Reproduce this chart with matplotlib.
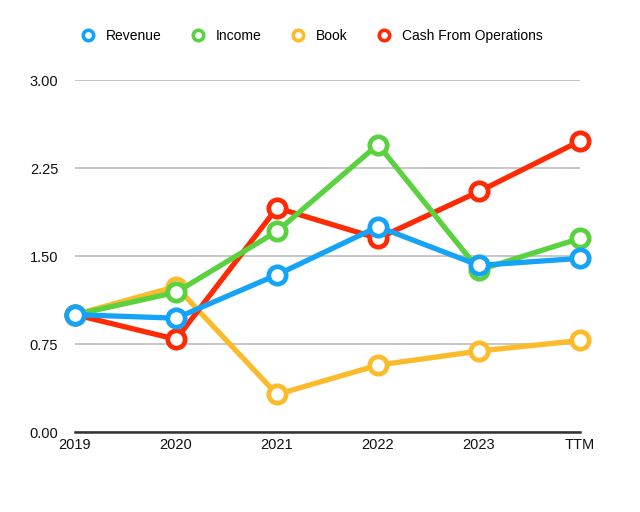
import matplotlib
matplotlib.use('Agg')
import matplotlib.pyplot as plt
from matplotlib.lines import Line2D

plt.rcParams['font.family'] = ['Liberation Sans', 'DejaVu Sans']

years = ['2019', '2020', '2021', '2022', '2023', 'TTM']
revenue = [1.00, 0.97, 1.34, 1.75, 1.42, 1.48]
income = [1.00, 1.19, 1.71, 2.45, 1.38, 1.65]
book = [1.00, 1.24, 0.32, 0.57, 0.69, 0.78]
cash = [1.00, 0.79, 1.91, 1.65, 2.05, 2.48]

series = [
    ('Revenue', revenue, '#15a3f7'),
    ('Income', income, '#5ad13f'),
    ('Book', book, '#fbbb2a'),
    ('Cash From Operations', cash, '#fe2a03'),
]
# drawing order (bottom to top)
draw_order = ['Book', 'Cash From Operations', 'Income', 'Revenue']

fig = plt.figure(figsize=(6.4, 5.12), dpi=100)
ax = fig.add_axes([75 / 640, 80 / 512, 505 / 640, 352 / 512])

x = list(range(len(years)))
lookup = {name: (vals, col) for name, vals, col in series}
for z, name in enumerate(draw_order):
    vals, col = lookup[name]
    ax.plot(x, vals, color=col, lw=3.8, marker='o', ms=12.5,
            mfc='white', mec=col, mew=3.4, zorder=3 + z, clip_on=False)

ax.set_xlim(0, len(years) - 1)
ax.set_ylim(0, 3)
ax.set_yticks([0, 0.75, 1.5, 2.25, 3.0])
ax.set_yticklabels(['0.00', '0.75', '1.50', '2.25', '3.00'])
ax.set_xticks(x)
ax.set_xticklabels(years)
ax.grid(axis='y', color='#bdbdbd', lw=1.2)
ax.set_axisbelow(True)
for s in ['top', 'right', 'left']:
    ax.spines[s].set_visible(False)
ax.spines['bottom'].set_color('#333333')
ax.spines['bottom'].set_linewidth(1.8)
ax.tick_params(length=0, labelsize=10.5, colors='#111111')
ax.tick_params(axis='y', pad=12)
ax.tick_params(axis='x', pad=4)

handles = [Line2D([], [], ls='none', marker='o', ms=7.5, mfc='white',
                  mec=col, mew=2.6) for _, _, col in series]
fig.legend(handles, [n for n, _, _ in series], loc='center',
           bbox_to_anchor=(0.4875, 1 - 36 / 512), ncol=4, frameon=False,
           fontsize=10, handletextpad=0.8, columnspacing=2.1,
           handlelength=1.0)

fig.savefig('out.png', dpi=100, facecolor='white')
